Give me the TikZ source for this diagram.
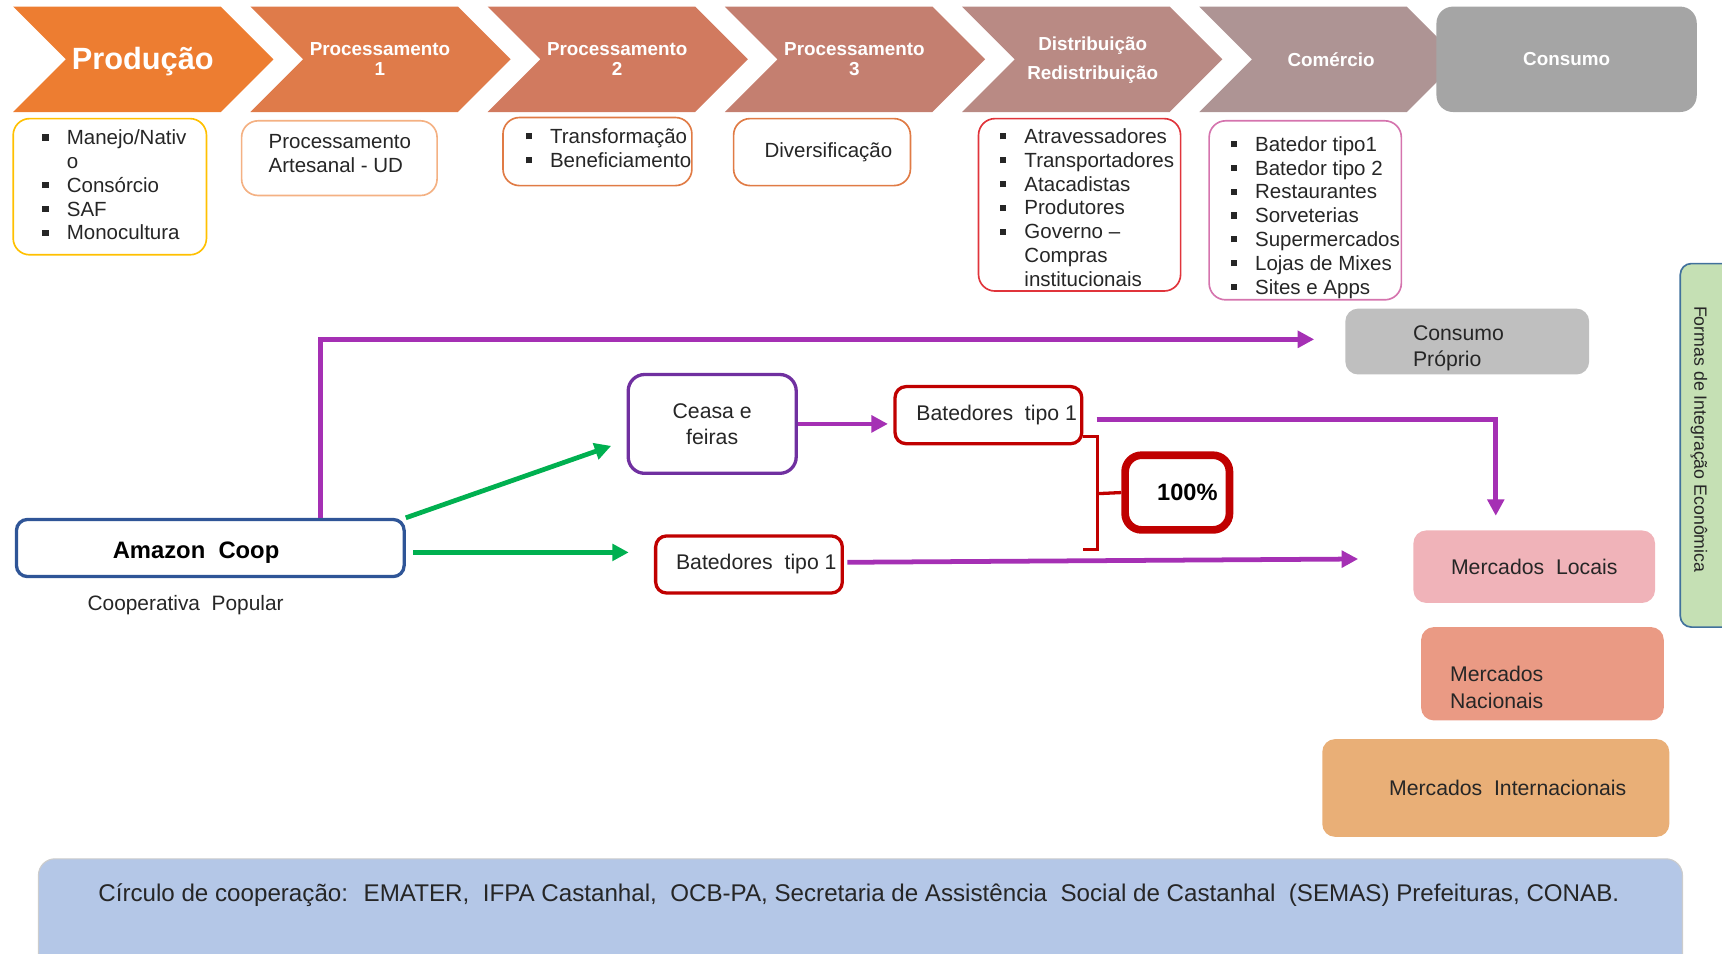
\documentclass[tikz,border=0pt]{standalone}
\usepackage{fontspec}
\setmainfont{Liberation Sans}
\usetikzlibrary{arrows.meta,calc}

\definecolor{ch0}{HTML}{ED7D31}
\definecolor{ch1}{HTML}{DF7B4A}
\definecolor{ch2}{HTML}{D17A5F}
\definecolor{ch3}{HTML}{C47F70}
\definecolor{ch4}{HTML}{B98A84}
\definecolor{ch5}{HTML}{AE9494}
\definecolor{cinza}{HTML}{A5A5A5}
\definecolor{cinzaclaro}{HTML}{BFBFBF}
\definecolor{amarelo}{HTML}{FFC000}
\definecolor{laranjaclaro}{HTML}{F4B183}
\definecolor{laranja}{HTML}{E07B45}
\definecolor{vermelholista}{HTML}{E0343B}
\definecolor{rosalista}{HTML}{D574AE}
\definecolor{roxo}{HTML}{A530B4}
\definecolor{roxoescuro}{HTML}{7030A0}
\definecolor{vermelho}{HTML}{C00000}
\definecolor{verde}{HTML}{00B050}
\definecolor{azulcoop}{HTML}{2F5597}
\definecolor{verdeclaro}{HTML}{C5E0B4}
\definecolor{azulcinza}{HTML}{41719C}
\definecolor{rosa}{HTML}{F0B3B9}
\definecolor{salmao}{HTML}{EA9A84}
\definecolor{laranjamerc}{HTML}{E9AF77}
\definecolor{azulclaro}{HTML}{B4C7E7}
\definecolor{texto}{HTML}{262626}

\newcommand{\bul}{\rule[0.2em]{0.3em}{0.3em}}

\begin{document}
\begin{tikzpicture}[x=0.6pt, y=-0.6pt,
  chevtxt/.style={text=white, font=\bfseries\fontsize{10.3}{11}\selectfont, align=center},
  listbox/.style={draw, rounded corners=9pt, line width=0.9pt, fill=white, inner sep=0pt, text=texto, font=\fontsize{11.2}{13}\selectfont},
  listtxt/.style={anchor=north west, inner sep=0pt, align=left, text=texto, font=\fontsize{11.2}{13}\selectfont},
  midtxt/.style={inner sep=0pt, align=left, text=texto, font=\fontsize{11.6}{14.4}\selectfont},
  caixa/.style={draw, rounded corners=6pt, line width=1.8pt, fill=white, inner sep=0pt, align=center, text=texto, font=\fontsize{11.6}{14.4}\selectfont},
  mercado/.style={rounded corners=7pt, inner sep=0pt, align=center, text=texto, font=\fontsize{11.6}{14.4}\selectfont},
  setaroxa/.style={draw=roxo, line width=2.6pt, -{Triangle[length=9pt,width=9pt]}},
  setaverde/.style={draw=verde, line width=2.6pt, -{Triangle[length=9pt,width=9pt]}}]
\useasboundingbox (0,0) rectangle (1568,868);

% cadeia produtiva
\foreach \k/\cor in {0/ch0,1/ch1,2/ch2,3/ch3,4/ch4,5/ch5}{
  \fill[\cor] ({12+216*\k},6) -- ++(189,0) -- ++(48,48) -- ++(-48,48) -- ++(-189,0) -- ++(48,-48) -- cycle;
}
\node[fill=cinza, rounded corners=9pt, minimum width=142.2pt, minimum height=57.6pt, chevtxt] (cons) at (1426.5,54) {Consumo};
\node[chevtxt, font=\bfseries\fontsize{16.8}{18}\selectfont] (prod) at (130,56) {Produção};
\node[chevtxt] (proc1) at (346,54) {Processamento\\1};
\node[chevtxt] (proc2) at (562,54) {Processamento\\2};
\node[chevtxt] (proc3) at (778,54) {Processamento\\3};
\node[chevtxt] (dist) at (995,55) {Distribuição\\[5pt]Redistribuição};
\node[chevtxt] (com) at (1212,54) {Comércio};

% listas
\node[listbox, draw=amarelo, minimum width=105.6pt, minimum height=74.4pt,
  label={[listtxt, xshift=16.2pt, yshift=-5.4pt]north west:{\begin{tabular}{@{}l@{\hspace{10pt}}l@{}}\bul & Manejo/Nativ\\ & o\\ \bul & Consórcio\\ \bul & SAF\\ \bul & Monocultura\end{tabular}}}] (lprod) at (100,170) {};
\node[listbox, draw=laranjaclaro, minimum width=106.8pt, minimum height=40.8pt,
  label={[listtxt, xshift=15pt, yshift=-7.8pt]north west:{Processamento\\Artesanal - UD}}] (lart) at (309,144) {};
\node[listbox, draw=laranja, minimum width=103.2pt, minimum height=37.2pt,
  label={[listtxt, xshift=12.6pt, yshift=-5.4pt]north west:{\begin{tabular}{@{}l@{\hspace{10pt}}l@{}}\bul & Transformação\\ \bul & Beneficiamento\end{tabular}}}] (ltrans) at (544,138) {};
\node[listbox, draw=laranja, minimum width=96.6pt, minimum height=36.6pt] (ldiv) at (748.5,138.5) {\hspace*{7pt}Diversificação};
\node[listbox, draw=vermelholista, minimum width=110.4pt, minimum height=94.2pt,
  label={[listtxt, xshift=12pt, yshift=-4.8pt]north west:{\begin{tabular}{@{}l@{\hspace{10pt}}l@{}}\bul & Atravessadores\\ \bul & Transportadores\\ \bul & Atacadistas\\ \bul & Produtores\\ \bul & Governo --\\ & Compras\\ & institucionais\end{tabular}}}] (ldist) at (983,186.5) {};
\node[listbox, draw=rosalista, minimum width=105pt, minimum height=97.8pt,
  label={[listtxt, xshift=12pt, yshift=-7.8pt]north west:{\begin{tabular}{@{}l@{\hspace{10pt}}l@{}}\bul & Batedor tipo1\\ \bul & Batedor tipo 2\\ \bul & Restaurantes\\ \bul & Sorveterias\\ \bul & Supermercados\\ \bul & Lojas de Mixes\\ \bul & Sites e Apps\end{tabular}}}] (lcom) at (1188.5,191.5) {};

% fluxos
\node[fill=cinzaclaro, rounded corners=7pt, minimum width=133.2pt, minimum height=36pt,
  label={[midtxt, xshift=-4.8pt, yshift=-3.6pt]center:{Consumo\\Próprio}}] (cprop) at (1336,311) {};
\node[fill=verdeclaro, draw=azulcinza, line width=0.9pt, rounded corners=6pt, minimum width=36pt, minimum height=198.6pt] (formas) at (1560,405.5) {};
\node[rotate=-90, text=texto, font=\fontsize{9.7}{11}\selectfont] (formastxt) at (1547,400) {Formas de Integração Econômica};

\node[caixa, draw=azulcoop, minimum width=211.8pt, minimum height=31.2pt,
  label={[midtxt, text=black, font=\bfseries\fontsize{13}{15}\selectfont, xshift=-7.8pt, yshift=-2.4pt]center:Amazon~ Coop}] (coop) at (191.5,499) {};
\node[text=texto, font=\fontsize{11.4}{13}\selectfont] (coopsub) at (169,551) {Cooperativa~ Popular};
\node[caixa, draw=roxoescuro, rounded corners=9pt, minimum width=91.8pt, minimum height=54pt] (ceasa) at (648.5,386) {Ceasa e\\feiras};
\node[caixa, draw=vermelho, minimum width=102pt, minimum height=31.2pt] (bat1) at (900,378) {\hspace*{9pt}Batedores~ tipo 1};
\node[caixa, draw=vermelho, minimum width=102pt, minimum height=31.2pt] (bat2) at (682,514) {\hspace*{8pt}Batedores~ tipo 1};
\node[caixa, draw=vermelho, line width=4.2pt, rounded corners=9pt, minimum width=57pt, minimum height=40.8pt, text=black, font=\bfseries\fontsize{12.9}{15}\selectfont] (pct) at (1072,448.5) {\hspace*{11pt}100\%};

\node[mercado, fill=rosa, minimum width=132pt, minimum height=39.6pt] (mloc) at (1397,516) {Mercados~ Locais};
\node[mercado, fill=salmao, minimum width=132.6pt, minimum height=51pt,
  label={[midtxt, xshift=-25pt, yshift=-7.5pt]center:{Mercados\\Nacionais}}] (mnac) at (1404.5,613.5) {};
\node[mercado, fill=laranjamerc, minimum width=189.6pt, minimum height=53.4pt] (mint) at (1362,717.5) {\hspace*{13pt}Mercados~ Internacionais};

\node[fill=azulclaro, draw=black!20, line width=0.6pt, rounded corners=9pt, minimum width=898.2pt, minimum height=72pt] (circ) at (783.5,842) {};
\node[text=texto, font=\fontsize{13.2}{15}\selectfont] (circtxt) at (782,815)
  {Círculo de cooperação:~ EMATER,~ IFPA Castanhal,~ OCB-PA, Secretaria de Assistência~ Social de Castanhal~ (SEMAS) Prefeituras, CONAB.};

% chave 100%
\draw[vermelho, line width=1.8pt] ($(bat1.south east)+(0,-8)$) -- ++(13,0) -- ++(0,52) coordinate (chmeio) -- ++(0,51) -- ++(-13,0);
\draw[vermelho, line width=1.8pt] (chmeio) -- (pct.west);

\draw[setaroxa] ($(coop.north)+(100,0)$) |- ($(cprop.west)+(-28,-2)$);
\draw[setaverde] (coop.north east) -- ($(ceasa.west)+(-14,20)$);
\draw[setaverde] ($(coop.east)+(7,4)$) -- ($(bat2.west)+(-23,-11)$);
\draw[setaroxa] (ceasa.east) -- ($(bat1.west)+(-5,8)$);
\draw[setaroxa] ($(bat1.east)+(12,4)$) -| ($(mloc.north)+(-35,-13)$);
\draw[setaroxa] ($(bat2.east)+(3,-2)$) -- ($(mloc.west)+(-50,-7)$);
\end{tikzpicture}
\end{document}
